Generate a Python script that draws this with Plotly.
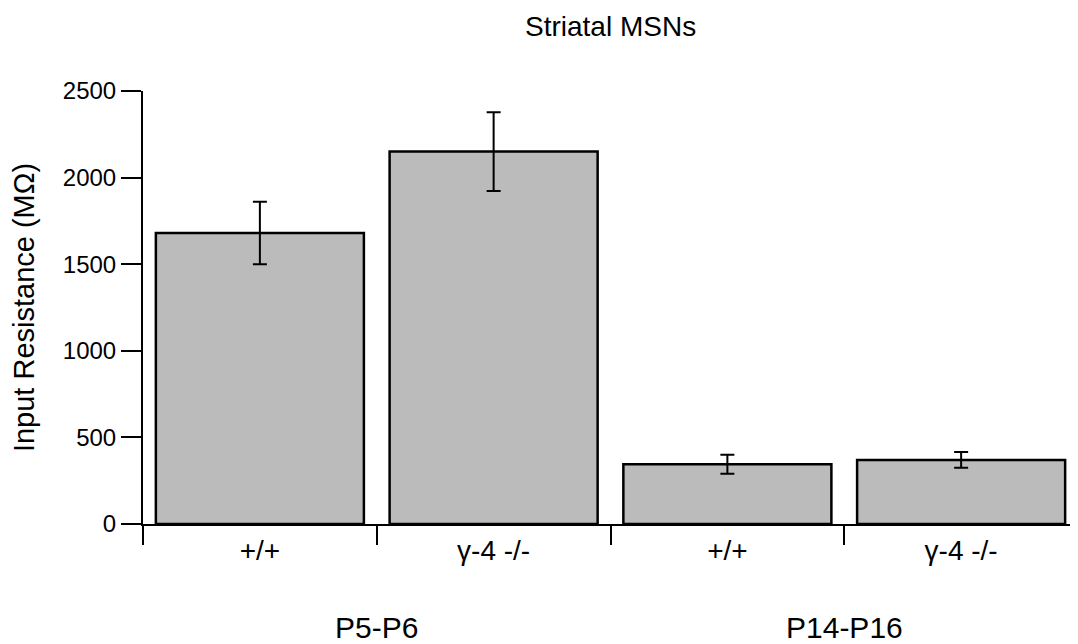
import plotly.graph_objects as go

categories = ["+/+", "γ-4 -/-", "+/+", "γ-4 -/-"]
groups = ["P5-P6", "P14-P16"]
values = [1680, 2150, 345, 370]
errors = [180, 228, 55, 45]
y_ticks = [0, 500, 1000, 1500, 2000, 2500]

FONT = "Liberation Sans, Arial, sans-serif"
xpos = list(range(len(categories)))

fig = go.Figure()
fig.add_trace(go.Bar(
    x=xpos, y=values,
    width=0.89,
    marker=dict(color="#bbbbbb", line=dict(color="black", width=2.5)),
    error_y=dict(type="data", array=errors, visible=True, color="black", thickness=2, width=7),
    showlegend=False,
))

for i, g in enumerate(groups):
    fig.add_annotation(x=2 * i + 0.5, xref="x", y=-0.24, yref="paper", yanchor="middle",
                       text=g, showarrow=False, font=dict(family=FONT, size=30, color="black"))

fig.add_annotation(x=0.5, xref="paper", y=1.148, yref="paper", yanchor="middle", xanchor="center",
                   text="Striatal MSNs", showarrow=False, font=dict(family=FONT, size=28, color="black"))

fig.update_layout(
    width=1070, height=636,
    margin=dict(l=135, r=0, t=83, b=120),
    paper_bgcolor="white", plot_bgcolor="white",
    xaxis=dict(range=[-0.5, 3.5], tickmode="array", tickvals=xpos, ticktext=categories,
               ticks="", showline=True, linecolor="black", linewidth=2, showgrid=False, zeroline=False,
               tickfont=dict(family=FONT, size=28, color="black"),
               minor=dict(tickmode="array", tickvals=[-0.5, 0.5, 1.5, 2.5], ticks="outside",
                          ticklen=19, tickwidth=2, tickcolor="black", showgrid=False)),
    yaxis=dict(range=[0, 2500], tickmode="array", tickvals=y_ticks, ticks="outside", ticklen=20,
               tickwidth=2, tickcolor="black", showline=True, linecolor="black", linewidth=2,
               showgrid=False, zeroline=False,
               tickfont=dict(family=FONT, size=24, color="black"),
               title=dict(text="Input Resistance (MΩ)", font=dict(family=FONT, size=29, color="black"),
                          standoff=22)),
)

fig.write_html("out.html")
